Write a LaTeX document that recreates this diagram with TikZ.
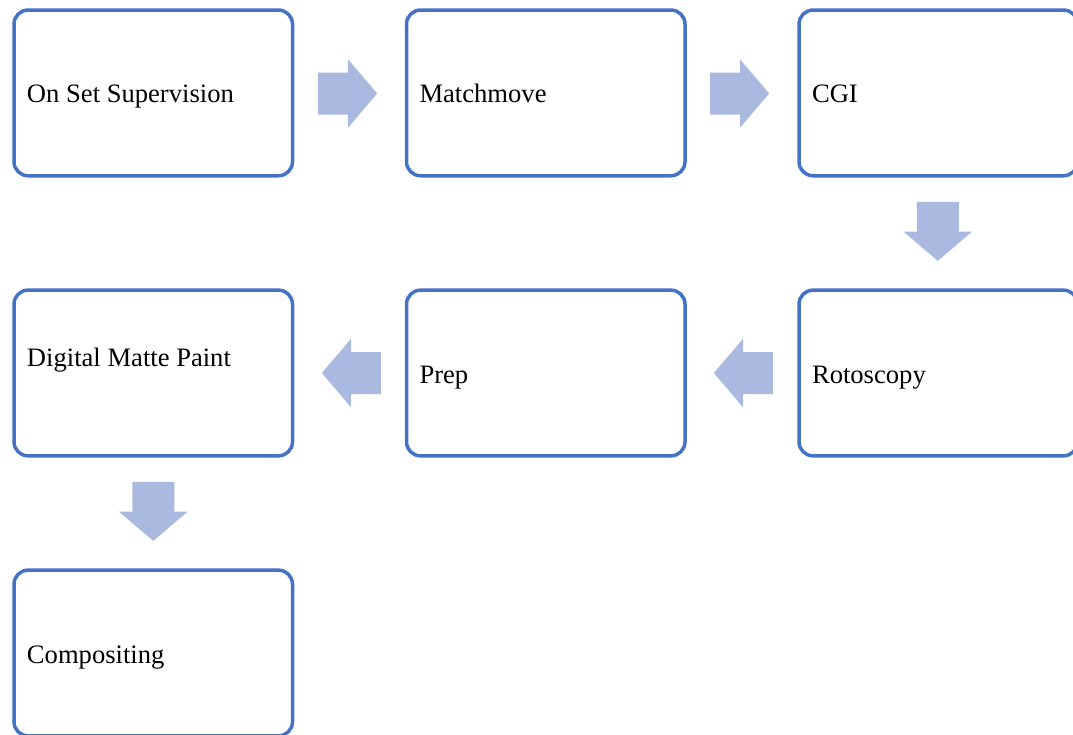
\documentclass[tikz,border=0pt]{standalone}
\usepackage{fontspec}
\setmainfont{Liberation Serif}
\usetikzlibrary{shapes.arrows}
\definecolor{boxblue}{HTML}{4472C4}
\definecolor{arrowblue}{HTML}{AAB9DF}
\tikzset{
  stage/.style = {draw=boxblue, line width=3.5pt, rounded corners=14pt, minimum width=278.5pt, minimum height=165.7pt, text width=252.5pt, inner xsep=13pt, align=flush left, text height=24pt, text depth=4pt, font=\fontsize{26.6}{30.6}\selectfont},
  flow/.style = {single arrow, fill=arrowblue, anchor=tail, inner xsep=0pt, inner ysep=20.8pt, minimum height=59pt, single arrow head extend=13.2pt, single arrow tip angle=99, single arrow head indent=0pt}
}

\begin{document}
\begin{tikzpicture}[x=1pt, y=-1pt]
\useasboundingbox (0,0) rectangle (1073,734);
% stages
\node[stage] (onset) at (153.25,92.9) {On Set Supervision};
\node[stage] (match) at (545.75,92.9) {Matchmove};
\node[stage] (cgi) at (938.25,92.9) {CGI};
\node[stage] (roto) at (938.25,373) {Rotoscopy};
\node[stage] (prep) at (545.75,373) {Prep};
\node[stage, text height=4pt, text depth=18pt] (dmp) at (153.25,373) {Digital Matte Paint};
\node[stage] (comp) at (153.25,653) {Compositing};
% block arrows (placed by their tails)
\node[flow] (a1) at (318,93.5) {};
\node[flow] (a2) at (710,93.5) {};
\node[flow, rotate=-90] (a3) at (937.8,201.7) {};
\node[flow, rotate=180] (a4) at (773,373) {};
\node[flow, rotate=180] (a5) at (381,373) {};
\node[flow, rotate=-90] (a6) at (153.3,481.7) {};
\end{tikzpicture}
\end{document}
